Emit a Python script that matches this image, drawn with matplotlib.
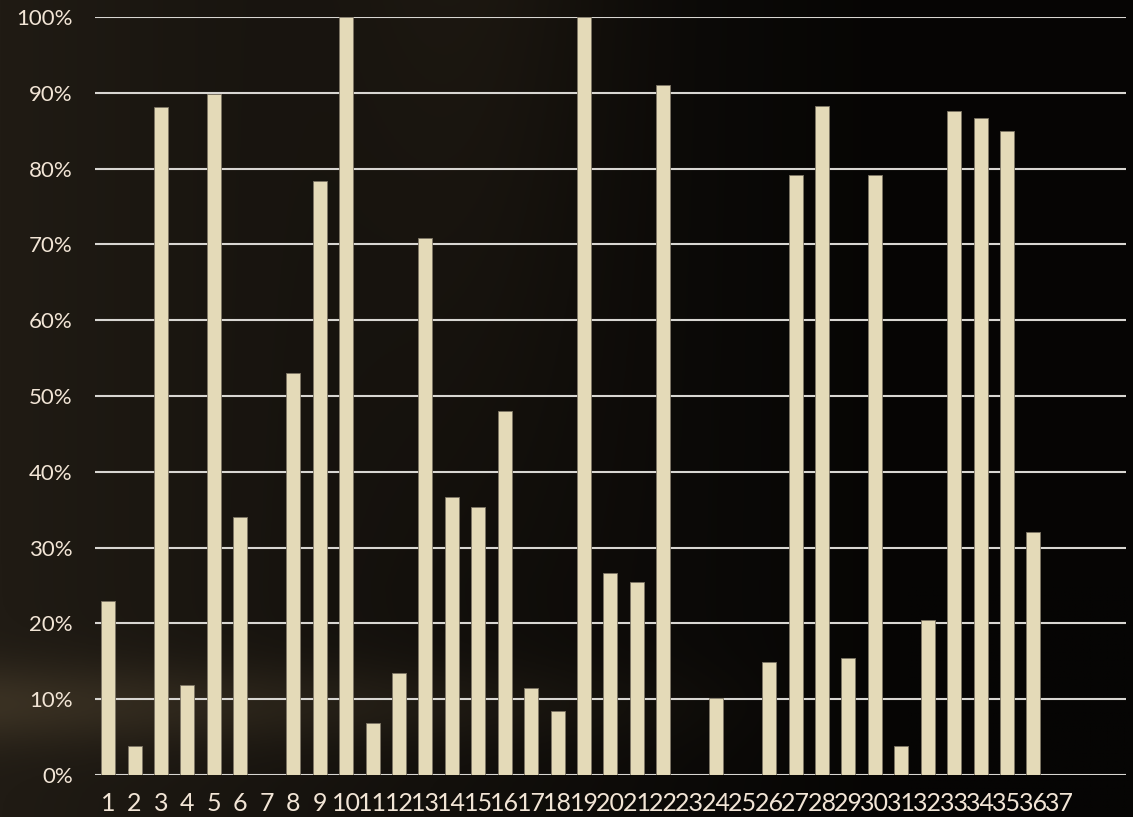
import numpy as np
import matplotlib
matplotlib.use('Agg')
import matplotlib.pyplot as plt
from matplotlib.ticker import PercentFormatter

# categories (the last two slots have no label)
labels = [str(i) for i in range(1, 38)] + ['', '']
values = [23.0, 3.8, 88.1, 11.9, 89.8, 34.0, 0, 53.0, 78.4, 100.0,
          6.8, 13.4, 70.8, 36.7, 35.4, 48.0, 11.5, 8.4, 100.0, 26.6,
          25.5, 91.0, 0, 10.2, 0, 14.9, 79.2, 88.3, 15.4, 79.1,
          3.8, 20.4, 87.6, 86.6, 85.0, 32.1, 0, 0, 0]
y_ticks = [0, 10, 20, 30, 40, 50, 60, 70, 80, 90, 100]

plt.rcParams['font.family'] = ['Lato', 'DejaVu Sans']

fig = plt.figure(figsize=(11.33, 8.17), dpi=100)

# dark brownish background with a faint glow on the lower left
bg = fig.add_axes([0, 0, 1, 1])
h, w = 300, 400
yy, xx = np.mgrid[0:h, 0:w] / np.array([h, w])[:, None, None]
dark = np.array([6, 5, 4]) / 255.0
brown = np.array([32, 27, 20]) / 255.0
glow = np.array([58, 49, 35]) / 255.0
t = np.clip(1 - xx * 1.25, 0, 1) ** 1.1
img = dark + (brown - dark) * t[..., None]
# lighter vertical haze in the upper middle
haze = np.exp(-((xx - 0.42) / 0.12) ** 2) * np.clip(1 - yy * 1.4, 0, 1)
img = img + np.array([10, 8, 5])[None, None, :] / 255.0 * haze[..., None]
band = np.exp(-((yy - 0.86) / 0.05) ** 2) * np.clip(1 - xx * 1.4, 0, 1)
img = img + (glow - brown) * band[..., None]
bg.imshow(np.clip(img, 0, 1), aspect='auto', extent=[0, 1, 0, 1])
bg.axis('off')

ax = fig.add_axes([0.0838, 0.0514, 0.91, 0.9279])
ax.patch.set_alpha(0)
x = np.arange(len(labels))
ax.bar(x, np.array(values) / 100.0, width=0.53, color='#e4dab8',
       edgecolor='#7d7565', linewidth=0.6, zorder=3)

ax.set_xlim(-0.5, len(labels) - 0.5)
ax.set_ylim(0, 1.0)
ax.set_xticks(x)
ax.set_xticklabels(labels, fontsize=18)
ax.set_yticks(np.array(y_ticks) / 100.0)
ax.yaxis.set_major_formatter(PercentFormatter(1.0, decimals=0))
ax.grid(axis='y', color='#d8d6d2', linewidth=1.5, zorder=1)
for s in ax.spines.values():
    s.set_visible(False)
ax.tick_params(length=0, colors='#f2e5d6')
ax.tick_params(axis='y', pad=16, labelsize=16)
ax.tick_params(axis='x', pad=12)

fig.savefig('out.png', dpi=100)
